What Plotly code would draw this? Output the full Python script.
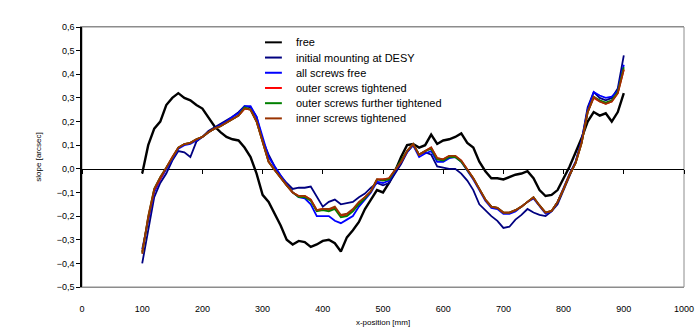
import plotly.graph_objects as go

# x-position [mm], sampled every 10 mm
x_mm = list(range(100, 901, 10))

free = [
    -0.02, 0.10, 0.17, 0.20, 0.27, 0.30, 0.32, 0.30, 0.29, 0.27,
    0.255, 0.22, 0.18, 0.155, 0.135, 0.125, 0.12, 0.09, 0.05, -0.02,
    -0.11, -0.14, -0.19, -0.24, -0.30, -0.32, -0.305, -0.31, -0.33, -0.32,
    -0.305, -0.30, -0.315, -0.35, -0.29, -0.26, -0.225, -0.17, -0.13, -0.09,
    -0.10, -0.06, -0.01, 0.05, 0.10, 0.105, 0.09, 0.10, 0.145, 0.105,
    0.12, 0.125, 0.135, 0.15, 0.11, 0.09, 0.03, -0.01, -0.04, -0.04,
    -0.045, -0.035, -0.025, -0.02, -0.01, -0.04, -0.09, -0.115, -0.11, -0.09,
    -0.04, 0.01, 0.07, 0.13, 0.20, 0.24, 0.225, 0.235, 0.20, 0.24,
    0.32,
]

initial_desy = [
    -0.40, -0.26, -0.12, -0.06, -0.02, 0.035, 0.075, 0.07, 0.05, 0.115,
    0.135, 0.16, 0.175, 0.19, 0.205, 0.22, 0.24, 0.265, 0.26, 0.22,
    0.12, 0.06, 0.01, -0.03, -0.06, -0.085, -0.08, -0.08, -0.075, -0.12,
    -0.16, -0.14, -0.13, -0.15, -0.145, -0.14, -0.12, -0.105, -0.08, -0.06,
    -0.07, -0.06, -0.02, 0.02, 0.07, 0.10, 0.06, 0.07, 0.06, 0.01,
    0.005, 0.0, 0.0, -0.02, -0.05, -0.09, -0.15, -0.175, -0.20, -0.22,
    -0.25, -0.245, -0.215, -0.195, -0.17, -0.185, -0.195, -0.20, -0.18, -0.15,
    -0.09, -0.03, 0.03, 0.12, 0.26, 0.325, 0.30, 0.29, 0.30, 0.34,
    0.48,
]

all_free = [
    -0.34, -0.22, -0.10, -0.045, 0.0, 0.045, 0.085, 0.10, 0.105, 0.12,
    0.135, 0.155, 0.17, 0.185, 0.20, 0.22, 0.235, 0.265, 0.265, 0.22,
    0.13, 0.05, 0.01, -0.03, -0.065, -0.10, -0.12, -0.125, -0.15, -0.20,
    -0.20, -0.20, -0.22, -0.23, -0.215, -0.20, -0.16, -0.13, -0.10, -0.055,
    -0.06, -0.05, -0.01, 0.025, 0.07, 0.10, 0.05, 0.065, 0.075, 0.03,
    0.03, 0.045, 0.05, 0.03, -0.005, -0.045, -0.09, -0.135, -0.165, -0.17,
    -0.19, -0.19, -0.18, -0.16, -0.14, -0.125, -0.16, -0.19, -0.18, -0.14,
    -0.08, -0.02, 0.03, 0.12, 0.25, 0.325, 0.31, 0.30, 0.305, 0.33,
    0.44,
]

outer_tight = [
    -0.35, -0.21, -0.09, -0.04, 0.005, 0.05, 0.09, 0.105, 0.11, 0.125,
    0.135, 0.155, 0.17, 0.18, 0.195, 0.21, 0.225, 0.255, 0.25, 0.20,
    0.11, 0.03, -0.005, -0.04, -0.07, -0.10, -0.115, -0.115, -0.13, -0.175,
    -0.17, -0.175, -0.165, -0.20, -0.195, -0.175, -0.145, -0.12, -0.095, -0.045,
    -0.045, -0.04, -0.005, 0.03, 0.075, 0.105, 0.06, 0.075, 0.09, 0.045,
    0.04, 0.055, 0.055, 0.035, 0.0, -0.04, -0.085, -0.13, -0.16, -0.165,
    -0.185, -0.185, -0.175, -0.16, -0.14, -0.12, -0.155, -0.185, -0.178, -0.14,
    -0.085, -0.025, 0.025, 0.11, 0.24, 0.30, 0.285, 0.275, 0.285, 0.32,
    0.42,
]

outer_further = [
    -0.355, -0.205, -0.085, -0.035, 0.005, 0.05, 0.09, 0.105, 0.11, 0.125,
    0.135, 0.155, 0.17, 0.18, 0.195, 0.21, 0.225, 0.26, 0.25, 0.20,
    0.11, 0.03, -0.005, -0.04, -0.07, -0.10, -0.12, -0.12, -0.135, -0.18,
    -0.175, -0.18, -0.17, -0.205, -0.20, -0.18, -0.15, -0.125, -0.095, -0.045,
    -0.05, -0.045, -0.005, 0.03, 0.075, 0.105, 0.06, 0.075, 0.085, 0.04,
    0.035, 0.05, 0.05, 0.03, -0.005, -0.04, -0.085, -0.13, -0.16, -0.165,
    -0.185, -0.185, -0.175, -0.16, -0.14, -0.12, -0.155, -0.185, -0.178, -0.14,
    -0.085, -0.025, 0.025, 0.11, 0.24, 0.305, 0.29, 0.28, 0.29, 0.325,
    0.43,
]

inner_tight = [
    -0.36, -0.20, -0.085, -0.035, 0.005, 0.05, 0.09, 0.105, 0.11, 0.125,
    0.135, 0.155, 0.17, 0.18, 0.195, 0.21, 0.225, 0.255, 0.25, 0.20,
    0.11, 0.03, -0.005, -0.04, -0.07, -0.10, -0.115, -0.115, -0.13, -0.175,
    -0.17, -0.17, -0.16, -0.195, -0.19, -0.17, -0.14, -0.12, -0.095, -0.045,
    -0.045, -0.04, -0.005, 0.03, 0.075, 0.105, 0.06, 0.075, 0.09, 0.045,
    0.04, 0.055, 0.055, 0.035, 0.0, -0.04, -0.085, -0.13, -0.16, -0.165,
    -0.185, -0.185, -0.175, -0.16, -0.14, -0.12, -0.155, -0.185, -0.178, -0.14,
    -0.085, -0.025, 0.025, 0.11, 0.24, 0.305, 0.285, 0.275, 0.285, 0.32,
    0.42,
]

series = [
    ("free", free, "#000000", 2.4),
    ("initial mounting at DESY", initial_desy, "#000080", 1.8),
    ("all screws free", all_free, "#0000FF", 1.8),
    ("outer screws tightened", outer_tight, "#FF0000", 1.8),
    ("outer screws further tightened", outer_further, "#008000", 1.8),
    ("inner screws tightened", inner_tight, "#993300", 1.8),
]

y_range = [-0.5, 0.6]
x_range = [0, 1000]
zero_pos = (0 - y_range[0]) / (y_range[1] - y_range[0])

font_family = "Liberation Sans, Arial, sans-serif"

fig = go.Figure()

# carrier for the axis drawn along slope = 0 (line with tick marks)
fig.add_trace(go.Scatter(
    x=[], y=[], xaxis="x2", yaxis="y", mode="lines",
    showlegend=False, hoverinfo="skip",
))

for name, vals, color, width in series:
    fig.add_trace(go.Scatter(
        x=x_mm, y=vals, mode="lines", name=name,
        line=dict(color=color, width=width), showlegend=False,
    ))

# legend block: short line sample + label per series
legend_x0, legend_x1, legend_tx = 0.304, 0.332, 0.352
legend_top, legend_step = 0.941, 0.0585
shapes = [dict(
    type="rect", xref="x domain", yref="y domain", x0=0, x1=1, y0=0, y1=1,
    line=dict(color="#8c8c8c", width=1), layer="below",
)]
annotations = []
for i, (name, _, color, _) in enumerate(series):
    yy = legend_top - i * legend_step
    shapes.append(dict(
        type="line", xref="paper", yref="paper",
        x0=legend_x0, x1=legend_x1, y0=yy, y1=yy,
        line=dict(color=color, width=2),
    ))
    annotations.append(dict(
        text=name, xref="paper", yref="paper", x=legend_tx, y=yy,
        xanchor="left", yanchor="middle", showarrow=False,
        font=dict(size=11, family=font_family, color="black"),
    ))

fig.update_layout(
    width=697, height=332,
    margin=dict(l=82, r=13, t=27, b=45),
    paper_bgcolor="white", plot_bgcolor="white",
    separators=",.",
    font=dict(family=font_family, color="black"),
    showlegend=False,
    xaxis=dict(
        range=x_range, dtick=100, tick0=0, tickformat="d",
        showgrid=False, zeroline=False, automargin=False,
        showline=True, linecolor="#8c8c8c", linewidth=1, mirror=True,
        ticks="outside", ticklen=13, tickcolor="rgba(0,0,0,0)",
        tickfont=dict(size=9, family=font_family),
        title=dict(text="x-position [mm]", font=dict(size=8, family=font_family), standoff=6),
    ),
    xaxis2=dict(
        range=x_range, overlaying="x", anchor="free", position=zero_pos,
        dtick=100, tick0=0, showgrid=False, zeroline=False, automargin=False,
        showline=True, linecolor="black", linewidth=1,
        ticks="outside", ticklen=4, tickcolor="black",
        showticklabels=False, layer="below traces",
    ),
    yaxis=dict(
        range=y_range, dtick=0.1, tick0=-0.5, tickformat=".1f",
        showgrid=False, zeroline=False, automargin=False,
        showline=True, linecolor="black", linewidth=1.5,
        ticks="outside", ticklen=4, tickcolor="black",
        tickfont=dict(size=9, family=font_family),
        title=dict(text="slope [arcsec]", font=dict(size=8, family=font_family), standoff=14),
    ),
    shapes=shapes,
    annotations=annotations,
)

fig.write_html("out.html")
